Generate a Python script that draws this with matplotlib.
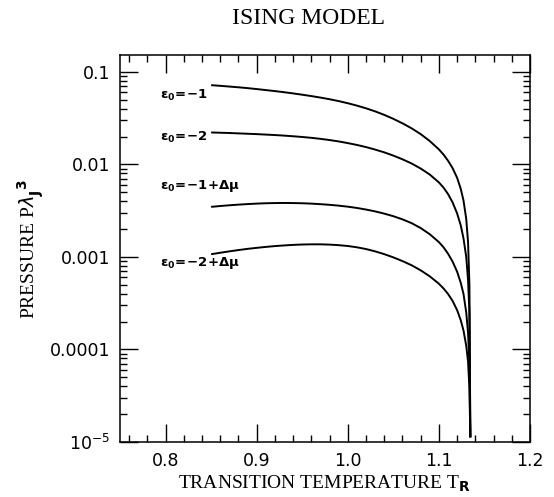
import numpy as np
import matplotlib
matplotlib.use("Agg")
import matplotlib.pyplot as plt
from matplotlib.ticker import FixedLocator, FixedFormatter, MultipleLocator, LogLocator, NullFormatter

# ---- data ----
temperature = [0.85, 0.86, 0.87, 0.88, 0.89, 0.90, 0.91, 0.92, 0.93, 0.94,
               0.95, 0.96, 0.97, 0.98, 0.99, 1.00, 1.01, 1.02, 1.03, 1.04,
               1.05, 1.06, 1.07, 1.08, 1.09, 1.10, 1.105, 1.11, 1.115, 1.12,
               1.124, 1.127, 1.130, 1.132, 1.1335, 1.1345]
log10_p_eps_m1 = [-1.144, -1.151, -1.159, -1.167, -1.176, -1.186, -1.197, -1.208, -1.22, -1.233,
                  -1.247, -1.262, -1.278, -1.296, -1.316, -1.339, -1.365, -1.394, -1.427, -1.465,
                  -1.508, -1.556, -1.61, -1.673, -1.748, -1.838, -1.893, -1.96, -2.04, -2.145,
                  -2.265, -2.39, -2.59, -2.84, -3.3, -4.95]
log10_p_eps_m2 = [-1.655, -1.658, -1.661, -1.665, -1.669, -1.673, -1.678, -1.683, -1.689, -1.696,
                  -1.704, -1.713, -1.724, -1.737, -1.752, -1.77, -1.79, -1.813, -1.84, -1.87,
                  -1.905, -1.945, -1.99, -2.045, -2.11, -2.195, -2.25, -2.32, -2.41, -2.53,
                  -2.66, -2.8, -3.0, -3.25, -3.6, -4.95]
log10_p_eps_m1_dmu = [-2.459, -2.45, -2.442, -2.435, -2.429, -2.424, -2.42, -2.418, -2.417, -2.418,
                      -2.42, -2.424, -2.43, -2.437, -2.446, -2.457, -2.471, -2.488, -2.508, -2.532,
                      -2.56, -2.594, -2.635, -2.688, -2.755, -2.84, -2.895, -2.965, -3.05, -3.16,
                      -3.28, -3.4, -3.6, -3.82, -4.15, -4.95]
log10_p_eps_m2_dmu = [-2.971, -2.955, -2.94, -2.926, -2.913, -2.902, -2.892, -2.883, -2.876, -2.87,
                      -2.866, -2.864, -2.864, -2.867, -2.873, -2.882, -2.896, -2.915, -2.94, -2.97,
                      -3.005, -3.045, -3.09, -3.145, -3.21, -3.29, -3.34, -3.4, -3.475, -3.575,
                      -3.685, -3.795, -3.96, -4.13, -4.42, -4.95]

series_labels = [r'$\mathbf{\epsilon_0\!=\!{-}1}$', r'$\mathbf{\epsilon_0\!=\!{-}2}$',
                 r'$\mathbf{\epsilon_0\!=\!{-}1\!+\!\Delta\mu}$', r'$\mathbf{\epsilon_0\!=\!{-}2\!+\!\Delta\mu}$']
label_positions = [(0.794, 0.056), (0.794, 0.0195), (0.794, 0.0058), (0.794, 0.00087)]

x_major = [0.8, 0.9, 1.0, 1.1, 1.2]
x_labels = ['0.8', '0.9', '1.0', '1.1', '1.2']
y_major = [1e-5, 1e-4, 1e-3, 1e-2, 1e-1]
y_labels = [r'$10^{-5}$', '0.0001', '0.001', '0.01', '0.1']

plt.rcParams['mathtext.fontset'] = 'dejavusans'

fig = plt.figure(figsize=(5.54, 4.97), dpi=100)
ax = fig.add_axes([0.2166, 0.1107, 0.7401, 0.7786])

for logs in (log10_p_eps_m1, log10_p_eps_m2, log10_p_eps_m1_dmu, log10_p_eps_m2_dmu):
    ax.plot(temperature, 10 ** np.array(logs), color='black', lw=1.4, solid_capstyle='butt')

for lab, (tx, ty) in zip(series_labels, label_positions):
    ax.text(tx, ty, lab, fontsize=9.5, ha='left', va='center', color='black')

ax.set_yscale('log')
ax.set_xlim(0.75, 1.2)
ax.set_ylim(1e-5, 0.152)

ax.xaxis.set_major_locator(FixedLocator(x_major))
ax.xaxis.set_major_formatter(FixedFormatter(x_labels))
ax.xaxis.set_minor_locator(MultipleLocator(0.02))
ax.yaxis.set_major_locator(FixedLocator(y_major))
ax.yaxis.set_major_formatter(FixedFormatter(y_labels))
ax.yaxis.set_minor_locator(LogLocator(base=10, subs=np.arange(2, 10), numticks=20))
ax.yaxis.set_minor_formatter(NullFormatter())

ax.tick_params(which='both', direction='in', top=True, right=True, color='black', width=1.0)
ax.tick_params(which='major', length=13, labelsize=12.5, pad=7)
ax.tick_params(which='minor', length=5)
for s in ax.spines.values():
    s.set_linewidth(1.1)

serif = ['Liberation Serif', 'DejaVu Serif']
fig.text(0.557, 0.963, 'ISING MODEL', family=serif, fontsize=17, ha='center', va='center')
ax.set_xlabel(r'TRANSITION TEMPERATURE T$_{\mathbf{R}}$', family=serif, fontsize=14, labelpad=3)
ax.set_ylabel(r'PRESSURE P$\lambda_{\mathbf{J}}^{\ \mathbf{3}}$', family=serif, fontsize=14, labelpad=3)

fig.savefig('out.png', dpi=100)
